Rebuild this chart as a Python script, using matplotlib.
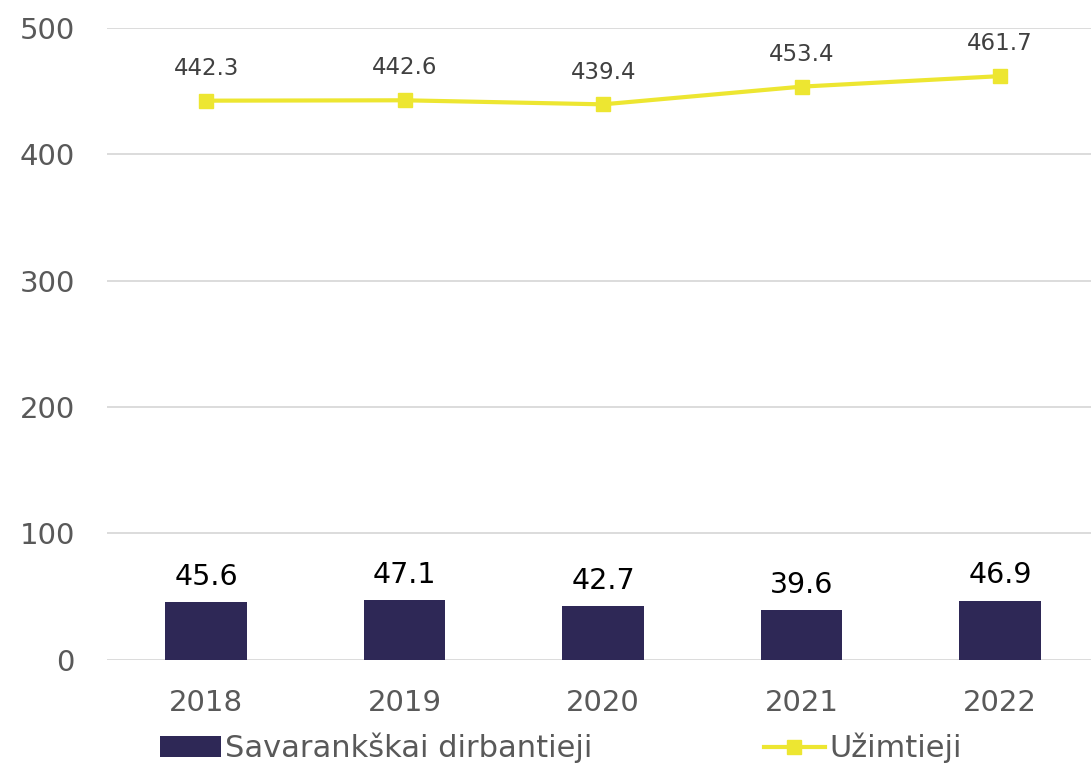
import matplotlib.pyplot as plt

years = ["2018", "2019", "2020", "2021", "2022"]
self_employed = [45.6, 47.1, 42.7, 39.6, 46.9]
employed = [442.3, 442.6, 439.4, 453.4, 461.7]

bar_color = "#2E2856"
line_color = "#EDE631"
grey = "#595959"

fig = plt.figure(figsize=(10.91, 7.70), dpi=100)
ax = fig.add_axes([0.098, 0.143, 0.902, 0.821])

x = list(range(len(years)))
bars = ax.bar(x, self_employed, width=0.41, color=bar_color, zorder=2,
              label="Savarankškai dirbantieji")
line, = ax.plot(x, employed, color=line_color, lw=3, marker="s", markersize=10,
                zorder=3, label="Užimtieji")

for xi, v in zip(x, self_employed):
    ax.annotate(f"{v:.1f}", (xi, v), xytext=(0, 8), textcoords="offset points",
                ha="center", va="bottom", fontsize=20.5, color="black")
for xi, v in zip(x, employed):
    ax.annotate(f"{v:.1f}", (xi, v), xytext=(0, 15), textcoords="offset points",
                ha="center", va="bottom", fontsize=16.5, color="#404040")

ax.set_ylim(0, 500)
ax.set_yticks(range(0, 501, 100))
ax.set_xlim(-0.5, 4.458)
ax.set_xticks(x)
ax.set_xticklabels(years)
ax.grid(axis="y", color="#D9D9D9", lw=1.3, zorder=0)
ax.set_axisbelow(True)
for s in ax.spines.values():
    s.set_visible(False)
ax.tick_params(axis="both", length=0, labelsize=21, labelcolor=grey)
ax.tick_params(axis="y", pad=23)
ax.tick_params(axis="x", pad=21)

fig.legend([bars, line], ["Savarankškai dirbantieji", "Užimtieji"],
           loc="lower left", bbox_to_anchor=(0.121, -0.027), ncol=2,
           frameon=False, fontsize=22, handlelength=2.0, handletextpad=0.15,
           columnspacing=5.6, labelcolor=grey)

fig.savefig("out.png", dpi=100)
